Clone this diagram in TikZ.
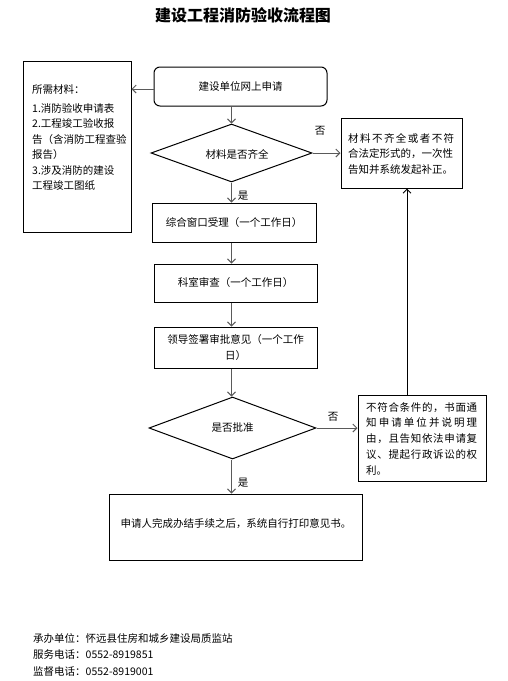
\documentclass[tikz,border=0pt]{standalone}
\usepackage{fontspec}
\setmainfont{Noto Sans CJK SC}
\usetikzlibrary{shapes.geometric,arrows.meta}
\definecolor{linegray}{RGB}{90,90,90}
\def\spr#1{\sprA#1\relax}
\def\sprA#1#2{#1\ifx\relax#2\else\hfil\expandafter\sprA\expandafter#2\fi}
\tikzset{
  txt/.style={font=\fontsize{10.5}{15.5}\selectfont, inner sep=0pt},
  boxst/.style={draw=black, line width=1pt, rectangle, inner sep=0pt, txt},
  rbox/.style={boxst, rounded corners=6pt},
  dia/.style={draw=black, line width=1pt, diamond, inner sep=0pt, txt},
  arr/.style={draw=linegray, line width=1pt, -{Straight Barb[length=4pt,width=8pt,line width=1pt]}},
  arrblack/.style={draw=black, line width=1pt, -{Straight Barb[length=4pt,width=8pt,line width=1pt]}},
  line/.style={txt, anchor=base west},
}
\begin{document}
\begin{tikzpicture}[x=1pt,y=-1pt]
\useasboundingbox[fill=white] (0,0) rectangle (507,681);
% title
\node[inner sep=0pt, anchor=base, font=\fontsize{16}{18}\selectfont\bfseries] (title) at (243,21) {建设工程消防验收流程图};
% left box
\node[boxst, minimum width=108, minimum height=171] (left) at (77,146.5) {};
\node[line] (l1) at (32,93) {所需材料：};
\node[line] (l2) at (32,112) {1.消防验收申请表};
\node[line] (l3) at (32,127.5) {2.工程竣工验收报};
\node[line] (l4) at (32,143) {告（含消防工程查验};
\node[line] (l5) at (32,158.5) {报告）};
\node[line] (l6) at (32,174) {3.涉及消防的建设};
\node[line] (l7) at (32,189.5) {工程竣工图纸};
% main flow
\node[rbox, minimum width=173, minimum height=39] (start) at (240.5,86.5) {建设单位网上申请};
\node[dia, minimum width=161, minimum height=58] (d1) at (231.5,153) {};
\node[txt] (d1t) at (237,154) {材料是否齐全};
\node[boxst, minimum width=121, minimum height=70] (r1) at (401.5,153) {};
\node[line] (r1a) at (348,142) {\hbox to 106pt{\spr{材料不齐全或者不符}}};
\node[line] (r1b) at (348,157.5) {合法定形式的，一次性};
\node[line] (r1c) at (348,173) {告知并系统发起补正。};
\node[boxst, minimum width=164, minimum height=39] (b2) at (234,222.5) {综合窗口受理（一个工作日）};
\node[boxst, minimum width=163, minimum height=38] (b3) at (235.5,283) {科室审查（一个工作日）};
\node[boxst, minimum width=163, minimum height=41, align=center, font=\fontsize{10.5}{16}\selectfont] (b4) at (235.5,347.5) {领导签署审批意见（一个工作\\日）};
\node[dia, minimum width=167, minimum height=62] (d2) at (232.5,428) {是否批准};
\node[boxst, minimum width=128, minimum height=86] (r2) at (422,438) {};
\node[line] (r2a) at (366,411) {\hbox to 111pt{\spr{不符合条件的，书面通}}};
\node[line] (r2b) at (366,426.75) {\hbox to 111pt{\spr{知申请单位并说明理}}};
\node[line] (r2c) at (366,442.5) {\hbox to 111pt{\spr{由，且告知依法申请复}}};
\node[line] (r2d) at (366,458.25) {\hbox to 111pt{\spr{议、提起行政诉讼的权}}};
\node[line] (r2e) at (366,474) {利。};
\node[boxst, minimum width=253, minimum height=66] (final) at (235.5,527) {};
\node[txt] (finalt) at (236,523.5) {申请人完成办结手续之后，系统自行打印意见书。};
% labels
\node[txt] (no1) at (320,131) {否};
\node[txt] (yes1) at (243,196) {是};
\node[txt] (no2) at (333,417) {否};
\node[txt] (yes2) at (243,483) {是};
% connectors
\coordinate (startl) at (154,89);
\draw[arr] (startl) -- (startl -| left.east);
\draw[arr] (d1.north |- start.south) -- (d1.north);
\draw[arr] (d1.east) -- (r1.west);
\draw[arr] (d1.south) -- (d1.south |- b2.north);
\draw[arr] (d1.south |- b2.south) -- (d1.south |- b3.north);
\draw[arr] (d1.south |- b3.south) -- (d1.south |- b4.north);
\draw[arr] (d1.south |- b4.south) -- (d1.south |- d2.north);
\draw[arr] (d2.east) -- (d2.east -| r2.west);
\draw[arr] (d1.south |- d2.south) -- (d1.south |- final.north);
\coordinate (upfoot) at (407,395);
\draw[arrblack] (upfoot) -- (upfoot |- r1.south);
% footer
\node[line] (f1) at (33,642) {承办单位：怀远县住房和城乡建设局质监站};
\node[line] (f2) at (33,658) {服务电话：0552-8919851};
\node[line] (f3) at (33,675) {监督电话：0552-8919001};
\end{tikzpicture}
\end{document}
